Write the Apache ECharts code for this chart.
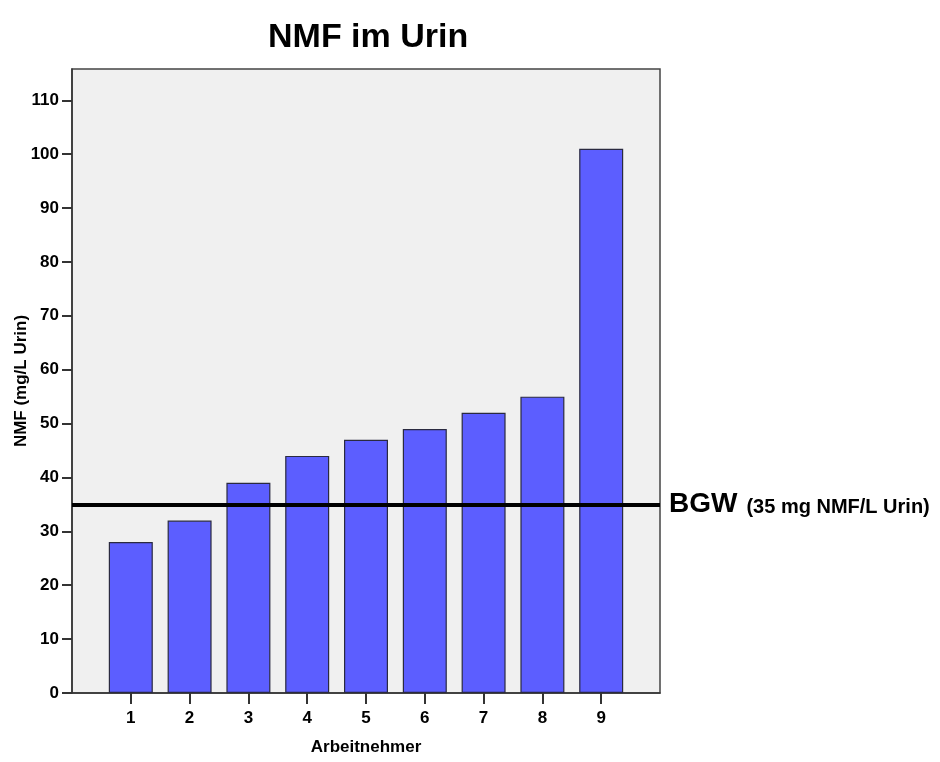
<!DOCTYPE html>
<html>
<head>
<meta charset="utf-8">
<script src="https://cdn.jsdelivr.net/npm/echarts@6/dist/echarts.min.js"></script>
<style>
  html, body { margin: 0; padding: 0; background: #ffffff; }
  #chart { width: 940px; height: 762px; }
</style>
</head>
<body>
<div id="chart"></div>
<script>
// ---- data ----
const categories = ['1', '2', '3', '4', '5', '6', '7', '8', '9'];
const values = [28, 32, 39, 44, 47, 49, 52, 55, 101];
const yTicks = [0, 10, 20, 30, 40, 50, 60, 70, 80, 90, 100, 110];
const limitValue = 35;
const limitLabel = 'BGW';
const limitNote = '(35 mg NMF/L Urin)';
const titleText = 'NMF im Urin';
const xName = 'Arbeitnehmer';
const yName = 'NMF (mg/L Urin)';

// pad the category axis with an empty slot on each side (axis runs 0..10)
const axisCats = [''].concat(categories, ['']);
const barData = ['-'].concat(values, ['-']);

const FONT = '"Liberation Sans", Arial, sans-serif';

const chart = echarts.init(document.getElementById('chart'), null, { renderer: 'canvas' });
chart.setOption({
  animation: false,
  backgroundColor: '#ffffff',
  title: {
    text: titleText,
    left: 268,
    top: 21,
    padding: 0,
    textStyle: { fontFamily: FONT, fontSize: 34, fontWeight: 'bold', color: '#000' }
  },
  grid: {
    left: 72, right: 280, top: 69, bottom: 69,
    outerBoundsMode: 'none',
    containLabel: false,
    show: true, backgroundColor: '#f0f0f0', borderColor: '#444', borderWidth: 1.5
  },
  xAxis: {
    type: 'category',
    data: axisCats,
    boundaryGap: false,
    name: xName,
    nameLocation: 'middle',
    nameGap: 46,
    nameMoveOverlap: false,
    nameTextStyle: { fontFamily: FONT, fontSize: 17, fontWeight: 'bold', color: '#000' },
    axisLine: { show: true, lineStyle: { color: '#333', width: 1.5 } },
    axisTick: {
      show: true, length: 11, lineStyle: { color: '#333', width: 2 },
      interval: function (idx, val) { return val !== ''; }
    },
    axisLabel: {
      interval: 0, margin: 17,
      fontFamily: FONT, fontSize: 17, fontWeight: 'bold', color: '#000'
    },
    splitLine: { show: false }
  },
  yAxis: {
    type: 'value',
    min: 0, max: 115.8,
    name: yName,
    nameLocation: 'middle',
    nameGap: 42,
    nameMoveOverlap: false,
    nameTextStyle: { fontFamily: FONT, fontSize: 17, fontWeight: 'bold', color: '#000' },
    axisLine: { show: true, lineStyle: { color: '#333', width: 1.5 } },
    axisTick: { show: true, length: 10, customValues: yTicks, lineStyle: { color: '#333', width: 2 } },
    axisLabel: {
      customValues: yTicks, margin: 13,
      fontFamily: FONT, fontSize: 17, fontWeight: 'bold', color: '#000'
    },
    splitLine: { show: false }
  },
  series: [{
    type: 'bar',
    data: barData,
    barWidth: 44,
    itemStyle: { color: '#5c5eff', borderColor: '#2a2a40', borderWidth: 1.2 },
    emphasis: { disabled: true },
    silent: true,
    markLine: {
      silent: true,
      symbol: 'none',
      animation: false,
      data: [{ yAxis: limitValue }],
      lineStyle: { color: '#000', width: 4, type: 'solid' },
      emphasis: { disabled: true },
      label: {
        show: true,
        position: 'end',
        distance: 9,
        formatter: '{a|' + limitLabel + '}{b|' + limitNote + '}',
        rich: {
          a: { fontFamily: FONT, fontSize: 28, fontWeight: 'bold', color: '#000' },
          b: { fontFamily: FONT, fontSize: 20, fontWeight: 'bold', color: '#000', padding: [6, 0, 0, 9] }
        }
      }
    }
  }]
});
</script>
</body>
</html>
